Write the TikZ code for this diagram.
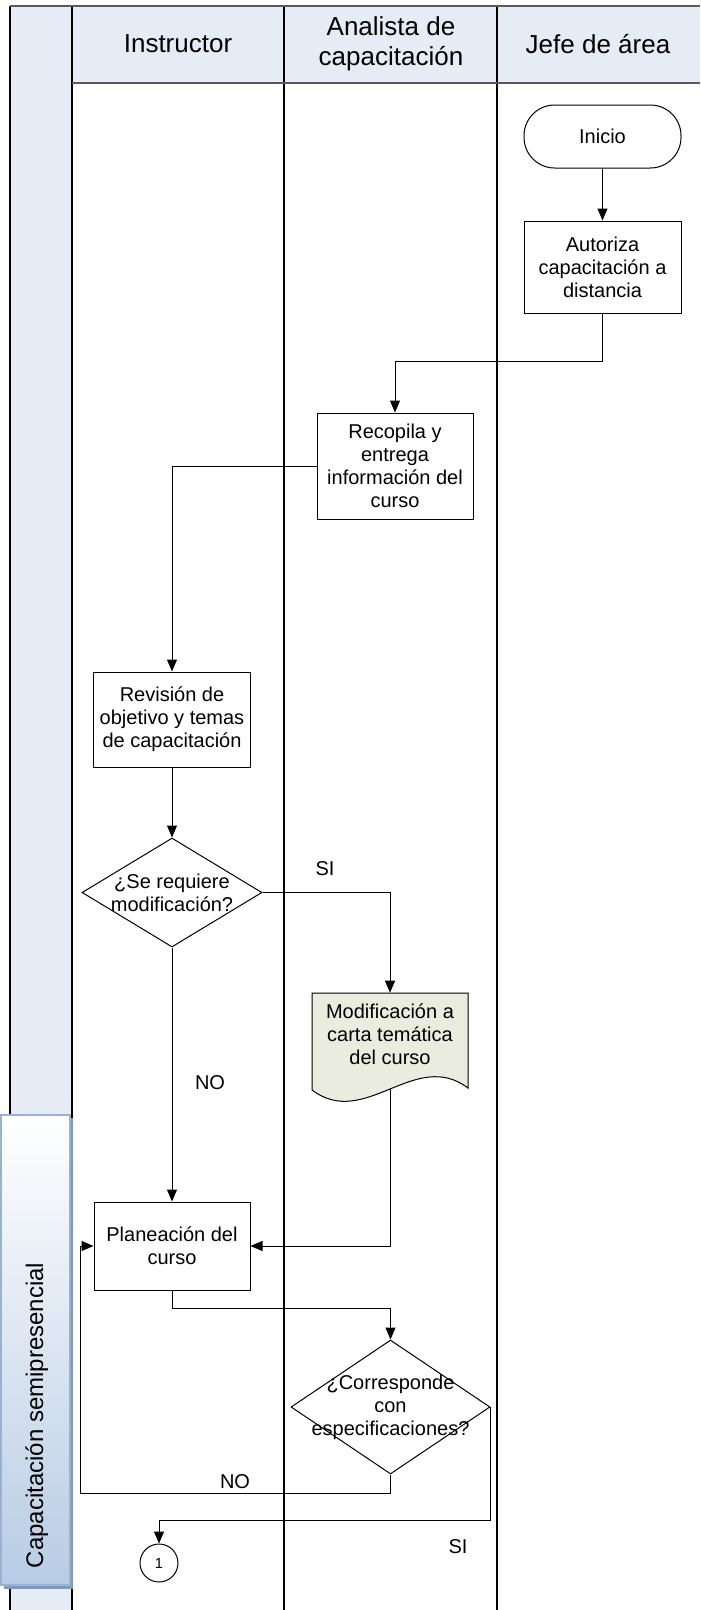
\documentclass[tikz,border=0pt]{standalone}
\usepackage{fontspec}
\setmainfont{Liberation Sans}
\usetikzlibrary{arrows.meta,shapes.geometric,calc}

\definecolor{lanefill}{RGB}{229,236,246}
\definecolor{rulegrey}{RGB}{90,90,90}
\definecolor{docfill}{RGB}{235,236,224}
\definecolor{tabedge}{RGB}{149,179,215}
\definecolor{tabbottom}{RGB}{184,204,228}
\definecolor{tabshadow}{RGB}{130,152,186}

\begin{document}
\begin{tikzpicture}[x=0.75pt,y=-0.75pt,
  every node/.style={font=\fontsize{15pt}{17.25pt}\selectfont, align=center},
  proc/.style={draw, line width=0.75pt, fill=white, inner sep=0pt},
  decision/.style={diamond, draw, line width=0.75pt, fill=white, inner sep=0pt},
  flow/.style={line width=0.75pt, -{Triangle[length=9pt,width=7.5pt]}},
  lanehead/.style={font=\fontsize{19.5pt}{22.5pt}\selectfont}]

\useasboundingbox (0,0) rectangle (700,1610);

% swimlane frame
\fill[lanefill] (10,6) rectangle (72,1610);
\fill[lanefill] (72,6) rectangle (700,83);
\draw[line width=0.8pt] (72,6) -- (72,1610);
\draw[line width=0.8pt] (284,6) -- (284,1610);
\draw[line width=0.8pt] (497,6) -- (497,1610);
\draw[line width=1pt] (10,6) -- (10,1610);
\draw[rulegrey, line width=1.6pt] (10,6) -- (700,6);
\draw[rulegrey, line width=1.6pt] (72,83) -- (700,83);

% lane titles
\node[lanehead] (hInst) at (178,44) {Instructor};
\node[lanehead] (hAna) at (391,44) {Analista de\\capacitación};
\node[lanehead] (hJefe) at (598,44) {Jefe de área};

% phase tab
\fill[tabshadow] (4,1118) rectangle (73,1589);
\shade[top color=white, bottom color=tabbottom, draw=tabedge, line width=1.8pt] (1,1115) rectangle (70,1585);
\node[rotate=90, anchor=base west, font=\fontsize{18pt}{20pt}\selectfont] (tab) at (43,1573) {Capacitación semipresencial};

% document shape
\draw[line width=0.75pt, fill=docfill] (312,1090) -- (312,993) -- (468,993) -- (468,1088)
  .. controls (415,1048) and (365,1130) .. (312,1090) -- cycle;
\coordinate (docbot) at (390,1089);

% process steps
\node[proc, rounded corners=23pt, minimum width=117.75pt, minimum height=47.25pt] (inicio) at (602.5,136.5) {Inicio};
\node[proc, minimum width=117.75pt, minimum height=69pt] (autoriza) at (602.5,267) {Autoriza\\capacitación a\\distancia};
\node[proc, minimum width=117pt, minimum height=79.5pt] (recopila) at (395,466) {Recopila y\\entrega\\información del\\curso};
\node[proc, minimum width=117.75pt, minimum height=71.25pt] (revision) at (172,719.5) {Revisión de\\objetivo y temas\\de capacitación};
\node[decision, minimum width=135pt, minimum height=81.75pt] (dec1) at (172,892.5) {};
\node (dec1txt) at (dec1) {¿Se requiere\\modificación?};
\node[minimum width=117pt, minimum height=61.5pt, inner sep=0pt] (doc) at (390,1034) {Modificación a\\carta temática\\del curso};
\node[proc, minimum width=117pt, minimum height=66pt] (planea) at (172,1246) {Planeación del\\curso};
\node[decision, minimum width=149.25pt, minimum height=100.5pt] (dec2) at (390.5,1407) {};
\node (dec2txt) at (dec2) {¿Corresponde\\con\\especificaciones?};
\node[circle, draw, line width=0.75pt, minimum size=28.5pt, inner sep=0pt, font=\fontsize{11pt}{12pt}\selectfont] (circ) at (159,1563) {1};

% connectors
\draw[flow] (inicio) -- (autoriza);
\draw[flow] (autoriza.south) -- ++(0,48) -| (recopila.north);
\draw[flow] (recopila.west) -| (revision.north);
\draw[flow] (revision.south) -- (dec1.north);
\draw[flow] (dec1.east) -| (doc.north);
\draw[flow] (dec1.south) -- (planea.north);
\draw[flow] (docbot) |- (planea.east);
\draw[flow] (planea.south) -- ++(0,18) -| (dec2.north);
\draw[flow] (dec2.south) -- ++(0,19) -| ($(planea.west)+(-13,0)$) -- (planea.west);
\draw[flow] (dec2.east) -- ++(0,113) -| (circ.north);

% branch labels
\node (si1) at (325,869) {SI};
\node (no1) at (210,1083) {NO};
\node (no2) at (235,1482) {NO};
\node (si2) at (458,1547) {SI};
\end{tikzpicture}
\end{document}
